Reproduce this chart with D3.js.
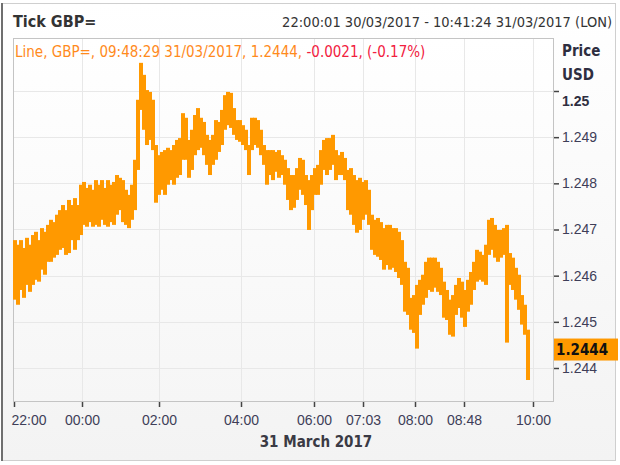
<!DOCTYPE html>
<html>
<head>
<meta charset="utf-8">
<script src="https://cdn.jsdelivr.net/npm/d3@7"></script>
<style>
  body { margin: 0; background: #fff; }
  svg { display: block; font-family: "DejaVu Sans Condensed", "DejaVu Sans", sans-serif; }
</style>
</head>
<body>
<div id="chart"></div>
<script>
// tick buckets (high / low per bucket)
const hi = [
  1.24677,1.24667,1.24677,1.24660,1.24682,1.24667,1.24688,1.24695,1.24677,1.24703,
  1.24695,1.24710,1.24721,1.24716,1.24732,1.24742,1.24753,1.24742,1.24764,1.24753,
  1.24768,1.24753,1.24797,1.24803,1.24790,1.24797,1.24786,1.24807,1.24797,1.24807,
  1.24790,1.24807,1.24797,1.24803,1.24818,1.24812,1.24807,1.24786,1.24775,1.24797,
  1.24851,1.24981,1.25061,1.25035,1.25002,1.24998,1.24981,1.24883,1.24861,1.24868,
  1.24872,1.24877,1.24872,1.24883,1.24894,1.24898,1.24952,1.24942,1.24894,1.24916,
  1.24948,1.24963,1.24942,1.24933,1.24905,1.24894,1.24905,1.24937,1.24933,1.24959,
  1.24991,1.24998,1.24996,1.24963,1.24937,1.24937,1.24926,1.24916,1.24883,1.24942,
  1.24942,1.24937,1.24916,1.24883,1.24872,1.24872,1.24872,1.24868,1.24872,1.24861,
  1.24851,1.24833,1.24818,1.24818,1.24833,1.24855,1.24851,1.24818,1.24807,1.24818,
  1.24833,1.24840,1.24872,1.24894,1.24898,1.24898,1.24905,1.24872,1.24861,1.24868,
  1.24855,1.24829,1.24833,1.24818,1.24807,1.24812,1.24803,1.24807,1.24786,1.24732,
  1.24721,1.24725,1.24716,1.24703,1.24710,1.24710,1.24703,1.24703,1.24695,1.24677,
  1.24630,1.24617,1.24552,1.24558,1.24580,1.24591,1.24602,1.24630,1.24639,1.24639,
  1.24639,1.24630,1.24617,1.24587,1.24569,1.24548,1.24558,1.24580,1.24595,1.24587,
  1.24569,1.24591,1.24608,1.24630,1.24656,1.24652,1.24645,1.24667,1.24721,1.24725,
  1.24710,1.24699,1.24699,1.24703,1.24710,1.24649,1.24639,1.24617,1.24602,1.24558,
  1.24537,1.24483
];
const lo = [
  1.24548,1.24537,1.24569,1.24552,1.24580,1.24565,1.24580,1.24591,1.24587,1.24613,
  1.24602,1.24630,1.24630,1.24639,1.24645,1.24656,1.24660,1.24645,1.24649,1.24677,
  1.24656,1.24677,1.24688,1.24710,1.24706,1.24716,1.24706,1.24710,1.24706,1.24721,
  1.24710,1.24706,1.24716,1.24710,1.24732,1.24742,1.24716,1.24710,1.24703,1.24721,
  1.24742,1.24829,1.24959,1.24916,1.24883,1.24894,1.24872,1.24758,1.24775,1.24786,
  1.24775,1.24797,1.24807,1.24797,1.24812,1.24818,1.24851,1.24851,1.24812,1.24829,
  1.24861,1.24872,1.24877,1.24861,1.24840,1.24818,1.24840,1.24851,1.24868,1.24883,
  1.24916,1.24926,1.24920,1.24905,1.24894,1.24890,1.24883,1.24872,1.24818,1.24872,
  1.24883,1.24877,1.24861,1.24840,1.24797,1.24818,1.24807,1.24825,1.24812,1.24818,
  1.24797,1.24764,1.24742,1.24747,1.24764,1.24786,1.24775,1.24753,1.24699,1.24742,
  1.24775,1.24775,1.24797,1.24829,1.24818,1.24829,1.24840,1.24807,1.24818,1.24818,
  1.24807,1.24742,1.24732,1.24710,1.24693,1.24699,1.24721,1.24732,1.24710,1.24656,
  1.24645,1.24641,1.24634,1.24613,1.24623,1.24613,1.24617,1.24608,1.24595,1.24580,
  1.24522,1.24515,1.24483,1.24476,1.24442,1.24515,1.24537,1.24552,1.24569,1.24565,
  1.24574,1.24565,1.24558,1.24509,1.24504,1.24472,1.24468,1.24515,1.24530,1.24509,
  1.24489,1.24522,1.24537,1.24569,1.24587,1.24591,1.24587,1.24580,1.24645,1.24656,
  1.24639,1.24630,1.24639,1.24645,1.24455,1.24580,1.24569,1.24548,1.24526,1.24494,
  1.24472,1.24374
];
// x axis: tick chart, labels sit at bucket positions
const timeLabels = ["22:00","00:00","02:00","04:00","06:00","07:03","08:00","08:48","10:00"];
const timeIdx = [0.33, 23, 48.67, 76, 100.33, 116.67, 134, 150.33, 173.33];
const priceTicks = [1.244, 1.245, 1.246, 1.247, 1.248, 1.249, 1.25];
const lastPrice = 1.2444;

const title = "Tick GBP=";
const range = "22:00:01 30/03/2017 - 10:41:24 31/03/2017 (LON)";
const infoMain = "Line, GBP=, 09:48:29 31/03/2017, 1.2444, ";
const infoChange = "-0.0021, (-0.17%)";
const dateLabel = "31 March 2017";

const W = 620, H = 465;
const plot = { left: 13, right: 553, top: 38, bottom: 401 };
const orange = "#ff9900", axisText = "#3e3e58";

const svg = d3.select("#chart").append("svg")
  .attr("width", W).attr("height", H);

const defs = svg.append("defs");
const pg = defs.append("linearGradient").attr("id", "panelGrad")
  .attr("x1", 0).attr("y1", 0).attr("x2", 0).attr("y2", 1);
pg.append("stop").attr("offset", "0%").attr("stop-color", "#ffffff");
pg.append("stop").attr("offset", "100%").attr("stop-color", "#f3f3f3");
const ag = defs.append("linearGradient").attr("id", "plotGrad")
  .attr("x1", 0).attr("y1", 0).attr("x2", 0).attr("y2", 1);
ag.append("stop").attr("offset", "0%").attr("stop-color", "#ffffff");
ag.append("stop").attr("offset", "100%").attr("stop-color", "#f6f6f6");
defs.append("clipPath").attr("id", "plotClip").append("rect")
  .attr("x", plot.left).attr("y", plot.top)
  .attr("width", plot.right - plot.left).attr("height", plot.bottom - plot.top);

// outer panel
svg.append("rect").attr("x", 2.5).attr("y", 3.5).attr("width", 613).attr("height", 457)
  .attr("fill", "url(#panelGrad)").attr("stroke", "#cfcfcf");
svg.append("line").attr("x1", 2).attr("x2", 2).attr("y1", 3).attr("y2", 461)
  .attr("stroke", "#6f6f6f").attr("stroke-width", 2);

const x = d3.scaleLinear().domain([0, hi.length - 1]).range([13, 526]);
const y = d3.scaleLinear().domain([1.244, 1.25]).range([368, 91]);

svg.append("rect")
  .attr("x", plot.left + 0.5).attr("y", plot.top + 0.5)
  .attr("width", plot.right - plot.left).attr("height", plot.bottom - plot.top)
  .attr("fill", "url(#plotGrad)").attr("stroke", "#c4c4c4");

// grid
svg.append("g").selectAll("line").data(priceTicks).join("line")
  .attr("x1", plot.left + 1).attr("x2", plot.right)
  .attr("y1", d => Math.round(y(d)) + 0.5).attr("y2", d => Math.round(y(d)) + 0.5)
  .attr("stroke", "#e8e8e8");
svg.append("g").selectAll("line").data(timeIdx.slice(1)).join("line")
  .attr("x1", d => Math.round(x(d)) + 0.5).attr("x2", d => Math.round(x(d)) + 0.5)
  .attr("y1", plot.top + 1).attr("y2", plot.bottom)
  .attr("stroke", "#e8e8e8");

// series
const step = x(1) - x(0);
svg.append("g").attr("clip-path", "url(#plotClip)")
  .selectAll("rect").data(hi).join("rect")
  .attr("x", (d, i) => Math.round(x(i)))
  .attr("width", Math.round(step) + 1)
  .attr("y", d => y(d))
  .attr("height", (d, i) => y(lo[i]) - y(d))
  .attr("fill", orange);

// y axis
const yAxis = d3.axisRight(y).tickValues(priceTicks).tickSize(5).tickPadding(3)
  .tickFormat(d => d === 1.25 ? "1.25" : d3.format(".3f")(d));
const yg = svg.append("g").attr("transform", `translate(${plot.right + 1},0)`).call(yAxis);
yg.select(".domain").remove();
yg.selectAll(".tick line").attr("stroke", "#444").attr("stroke-width", 1.5);
yg.selectAll(".tick text").attr("fill", axisText).style("font-size", "14px").attr("font-family", null);
yg.selectAll(".tick").filter(d => d === 1.25).select("text")
  .attr("dy", "1.05em").style("font-weight", "bold").attr("fill", "#2e2e40");

// x axis
const xAxis = d3.axisBottom(x).tickValues(timeIdx).tickSize(5)
  .tickFormat((d, i) => timeLabels[i]);
const xg = svg.append("g").attr("transform", `translate(0,${plot.bottom + 1})`).call(xAxis);
xg.select(".domain").remove();
xg.selectAll(".tick line").attr("stroke", "#444").attr("stroke-width", 1.5);
xg.selectAll(".tick text").attr("fill", axisText).attr("y", 13)
  .style("font-size", "14px").attr("font-family", null);
xg.selectAll(".tick").filter((d, i) => i === 0).select("text")
  .attr("text-anchor", "start").attr("x", -3);

// labels
svg.append("text").attr("x", 316).attr("y", 447).attr("text-anchor", "middle")
  .style("font-size", "15px").style("font-weight", "bold").attr("fill", "#3a3a44")
  .text(dateLabel);

svg.append("text").attr("x", 13).attr("y", 27)
  .style("font-size", "16px").style("font-weight", "bold").attr("fill", "#333")
  .text(title);
svg.append("text").attr("x", 612).attr("y", 27).attr("text-anchor", "end")
  .style("font-size", "14.5px").attr("fill", "#333")
  .text(range);

const info = svg.append("text").attr("x", 15).attr("y", 57).style("font-size", "15px");
info.append("tspan").attr("fill", "#ff8a1c").text(infoMain);
info.append("tspan").attr("fill", "#f2213f").text(infoChange);

svg.append("text").attr("x", 562).attr("y", 56)
  .style("font-size", "15px").style("font-weight", "bold").attr("fill", "#2e2e40").text("Price");
svg.append("text").attr("x", 562).attr("y", 80)
  .style("font-size", "15px").style("font-weight", "bold").attr("fill", "#2e2e40").text("USD");

// last price badge
svg.append("rect").attr("x", plot.right + 1).attr("y", y(lastPrice) - 11)
  .attr("width", 64).attr("height", 22).attr("fill", orange);
svg.append("text").attr("x", plot.right + 3).attr("y", y(lastPrice) + 5.5)
  .style("font-size", "15px").style("font-weight", "bold").attr("fill", "#111")
  .text(d3.format(".4f")(lastPrice));
</script>
</body>
</html>
